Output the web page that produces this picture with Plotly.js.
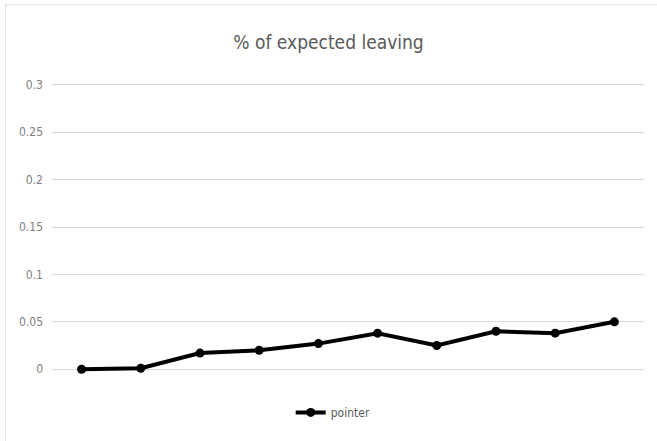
<!DOCTYPE html>
<html>
<head>
<meta charset="utf-8">
<script src="https://cdn.plot.ly/plotly-3.0.1.min.js"></script>
<style>
  html, body { margin: 0; padding: 0; background: #fff; }
  #wrap { position: relative; width: 657px; height: 441px; }
  #chart { position: absolute; left: 0; top: 0; width: 657px; height: 441px; }
  #frame { position: absolute; left: 5px; top: 4px; width: 660px; height: 450px;
           border-left: 1px solid #e3e3e3; border-top: 1px solid #e3e3e3; pointer-events: none; }
</style>
</head>
<body>
<div id="wrap">
  <div id="chart"></div>
  <div id="frame"></div>
</div>
<script>
const categories = [1, 2, 3, 4, 5, 6, 7, 8, 9, 10];
const pointerValues = [0, 0.001, 0.017, 0.02, 0.027, 0.038, 0.025, 0.04, 0.038, 0.05];
const yTickVals = [0, 0.05, 0.1, 0.15, 0.2, 0.25, 0.3];
const yTickText = ["0", "0.05", "0.1", "0.15", "0.2", "0.25", "0.3"];

const fontFam = "'Liberation Sans Narrow', 'Arial Narrow', 'DejaVu Sans Condensed', sans-serif";

const trace = {
  x: categories,
  y: pointerValues,
  type: 'scatter',
  mode: 'lines+markers',
  name: 'pointer',
  line: { color: '#000000', width: 4 },
  marker: { color: '#000000', size: 9, symbol: 'circle' },
  cliponaxis: false
};

const layout = {
  width: 657,
  height: 441,
  margin: { l: 52, r: 13, t: 81, b: 68 },
  paper_bgcolor: '#ffffff',
  plot_bgcolor: '#ffffff',
  title: {
    text: '% of expected leaving',
    font: { family: fontFam, size: 19, color: '#595959' },
    x: 0.5, xanchor: 'center',
    y: 1 - 42 / 441, yanchor: 'middle'
  },
  xaxis: {
    range: [0.5, 10.5],
    showticklabels: false,
    showgrid: false,
    zeroline: false,
    showline: false,
    ticks: ''
  },
  yaxis: {
    range: [-0.004, 0.304],
    tickvals: yTickVals,
    ticktext: yTickText,
    showgrid: true,
    gridcolor: '#d9d9d9',
    gridwidth: 1,
    zeroline: false,
    showline: false,
    ticks: '',
    ticklabelstandoff: 8,
    tickfont: { family: fontFam, size: 12, color: '#808080' }
  },
  showlegend: true,
  legend: {
    orientation: 'h',
    x: 0.475, xanchor: 'center',
    y: -0.135, yanchor: 'middle',
    font: { family: fontFam, size: 12, color: '#595959' },
    itemwidth: 30
  }
};

Plotly.newPlot('chart', [trace], layout, { displayModeBar: false, staticPlot: true });
</script>
</body>
</html>
